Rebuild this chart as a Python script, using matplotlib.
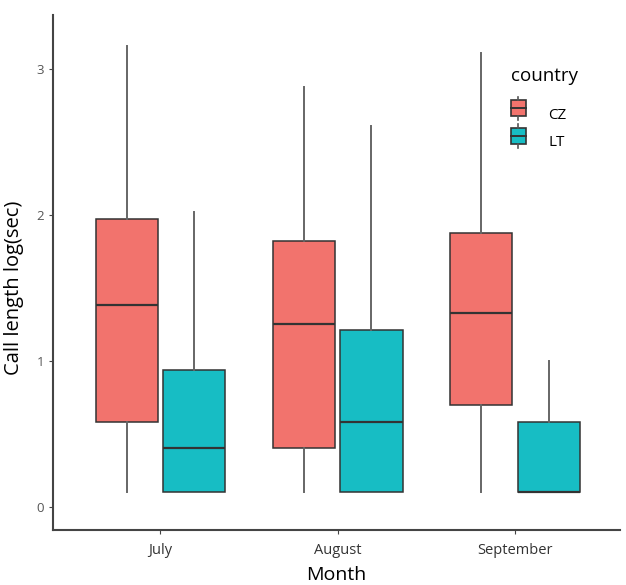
import numpy as np
import matplotlib.pyplot as plt
from matplotlib.legend_handler import HandlerBase
from matplotlib.patches import Rectangle
from matplotlib.lines import Line2D

plt.rcParams['font.family'] = ['Open Sans', 'DejaVu Sans']

months = ['July', 'August', 'September']
countries = ['CZ', 'LT']
colors = {'CZ': '#F2736D', 'LT': '#17BDC4'}

# five-number summaries (log seconds)
cz_low = [0.10, 0.10, 0.10]
cz_q1 = [0.58, 0.40, 0.70]
cz_med = [1.38, 1.25, 1.33]
cz_q3 = [1.97, 1.82, 1.88]
cz_high = [3.16, 2.88, 3.11]

lt_low = [0.10, 0.10, 0.10]
lt_q1 = [0.10, 0.10, 0.10]
lt_med = [0.40, 0.58, 0.10]
lt_q3 = [0.94, 1.21, 0.58]
lt_high = [2.02, 2.61, 1.00]

summary = {
    'CZ': (cz_low, cz_q1, cz_med, cz_q3, cz_high),
    'LT': (lt_low, lt_q1, lt_med, lt_q3, lt_high),
}


class BoxHandler(HandlerBase):
    # little boxplot glyph for the legend keys, like ggplot draws them
    def __init__(self, color):
        super().__init__()
        self.color = color

    def create_artists(self, legend, orig, x0, y0, width, height, fontsize, trans):
        cx = x0 + width / 2
        bh = fontsize * 1.05
        by = y0 + height / 2 - bh / 2
        r = Rectangle((x0, by), width, bh, facecolor=self.color,
                      edgecolor='#333333', lw=1.2, transform=trans)
        m = Line2D([x0, x0 + width], [by + bh / 2] * 2, color='#333333', lw=1.4,
                   transform=trans)
        t = Line2D([cx, cx], [by + bh, by + bh * 1.22], color='#555555', lw=1.2,
                   transform=trans)
        b = Line2D([cx, cx], [by, by - bh * 0.22], color='#555555', lw=1.2,
                   transform=trans)
        return [r, m, t, b]


fig = plt.figure(figsize=(6.26, 5.85), dpi=100)
ax = fig.add_axes([0.085, 0.094, 0.905, 0.88])

x = np.arange(1, len(months) + 1)
offsets = {'CZ': -0.19, 'LT': 0.19}
for c in countries:
    low, q1, med, q3, high = summary[c]
    stats = []
    for i in range(len(months)):
        stats.append({'whislo': low[i], 'q1': q1[i], 'med': med[i], 'q3': q3[i],
                      'whishi': high[i], 'fliers': []})
    ax.bxp(stats, positions=x + offsets[c], widths=0.35, patch_artist=True,
           showcaps=False, showfliers=False,
           boxprops=dict(facecolor=colors[c], edgecolor='#333333', lw=1.1),
           medianprops=dict(color='#333333', lw=1.6),
           whiskerprops=dict(color='#666666', lw=1.4))

ax.set_xlim(0.395, 3.59)
ax.set_ylim(-0.16, 3.37)
ax.set_xticks(x)
ax.set_xticklabels(months)
ax.set_yticks([0, 1, 2, 3])
ax.tick_params(axis='both', colors='#444444', labelcolor='#555555', labelsize=9.5, length=3)
ax.tick_params(axis='x', labelcolor='#333333', labelsize=10.5, pad=6)
for s in ['top', 'right']:
    ax.spines[s].set_visible(False)
for s in ['left', 'bottom']:
    ax.spines[s].set_color('#444444')
    ax.spines[s].set_linewidth(1.5)

ax.set_xlabel('Month', fontsize=14, color='black', labelpad=6)
ax.set_ylabel('Call length log(sec)', fontsize=14.5, color='black', labelpad=2)
ax.yaxis.set_label_coords(-0.052, 0.47)

handles = [Rectangle((0, 0), 1, 1) for _ in countries]
leg = fig.legend(handles, countries, title='country', loc='upper left',
                 bbox_to_anchor=(511 / 626, 1 - 67 / 585), frameon=False, fontsize=11,
                 title_fontsize=13.5, handlelength=0.95, handleheight=1.2,
                 labelspacing=0.7, handletextpad=1.5, borderpad=0, borderaxespad=0,
                 handler_map={h: BoxHandler(colors[c]) for h, c in zip(handles, countries)})
leg._legend_box.align = 'left'
leg._legend_box.sep = 15

fig.savefig('out.png', dpi=100)
